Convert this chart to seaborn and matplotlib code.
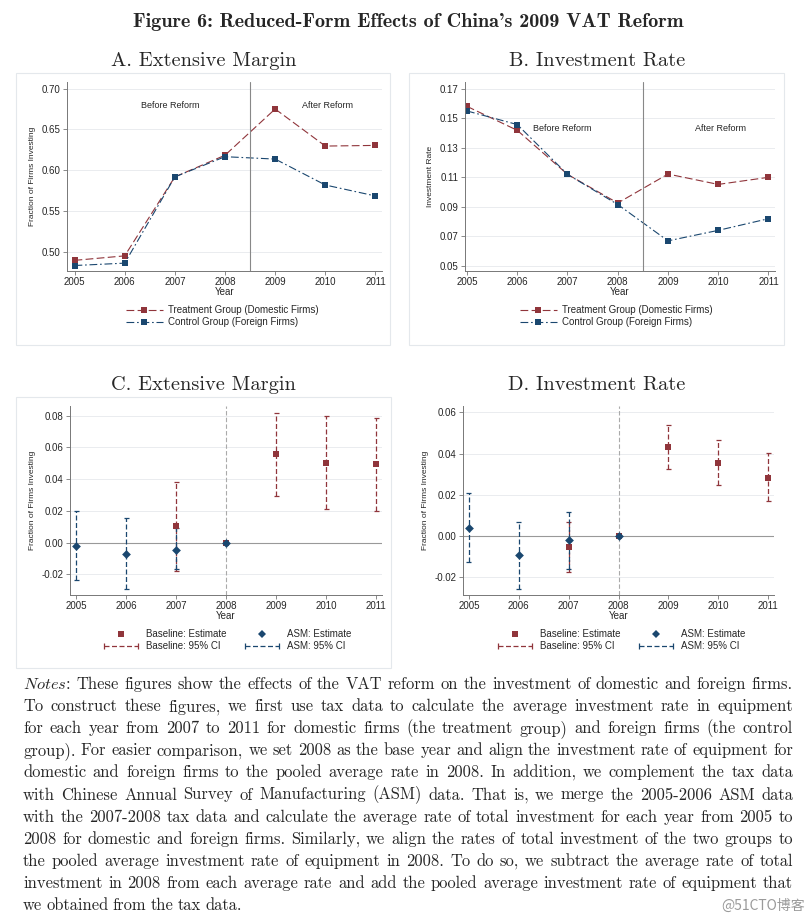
import numpy as np
import pandas as pd
import matplotlib
matplotlib.use('Agg')
import matplotlib.pyplot as plt
import seaborn as sns
from matplotlib.lines import Line2D
from matplotlib.patches import Rectangle
from matplotlib.legend_handler import HandlerLine2D
from matplotlib.ticker import FormatStrFormatter

# ---- data ----
years = [2005, 2006, 2007, 2008, 2009, 2010, 2011]
ext_treat = [0.490, 0.4955, 0.592, 0.6185, 0.675, 0.6297, 0.6305]
ext_ctrl = [0.4837, 0.4866, 0.592, 0.6167, 0.6138, 0.5821, 0.5687]
inv_treat = [0.158, 0.1418, 0.112, 0.0926, 0.1122, 0.1052, 0.110]
inv_ctrl = [0.1549, 0.1457, 0.112, 0.0916, 0.067, 0.0741, 0.082]

base_years = [2007, 2008, 2009, 2010, 2011]
asm_years = [2005, 2006, 2007, 2008]
ext_base_est = [0.0107, 0.0, 0.0556, 0.0502, 0.0493]
ext_base_lo = [-0.0179, 0.0, 0.0292, 0.0212, 0.0197]
ext_base_hi = [0.0384, 0.0, 0.0819, 0.0796, 0.0787]
ext_asm_est = [-0.0019, -0.0070, -0.0047, 0.0]
ext_asm_lo = [-0.0238, -0.0294, -0.0168, 0.0]
ext_asm_hi = [0.0201, 0.0153, 0.0090, 0.0]
inv_base_est = [-0.0051, 0.0, 0.0434, 0.0356, 0.0284]
inv_base_lo = [-0.0174, 0.0, 0.0324, 0.0246, 0.0168]
inv_base_hi = [0.0070, 0.0, 0.0537, 0.0464, 0.0402]
inv_asm_est = [0.0041, -0.0093, -0.0021, 0.0]
inv_asm_lo = [-0.0127, -0.0257, -0.0158, 0.0]
inv_asm_hi = [0.0207, 0.0070, 0.0115, 0.0]

TREAT = 'Treatment Group (Domestic Firms)'
CTRL = 'Control Group (Foreign Firms)'
MAROON = '#90353b'
NAVY = '#1a476f'

notes_lines = [
    "Notes: These figures show the effects of the VAT reform on the investment of domestic and foreign firms.",
    "To construct these figures, we first use tax data to calculate the average investment rate in equipment",
    "for each year from 2007 to 2011 for domestic firms (the treatment group) and foreign firms (the control",
    "group). For easier comparison, we set 2008 as the base year and align the investment rate of equipment for",
    "domestic and foreign firms to the pooled average rate in 2008. In addition, we complement the tax data",
    "with Chinese Annual Survey of Manufacturing (ASM) data. That is, we merge the 2005-2006 ASM data",
    "with the 2007-2008 tax data and calculate the average rate of total investment for each year from 2005 to",
    "2008 for domestic and foreign firms. Similarly, we align the rates of total investment of the two groups to",
    "the pooled average investment rate of equipment in 2008. To do so, we subtract the average rate of total",
    "investment in 2008 from each average rate and add the pooled average investment rate of equipment that",
    "we obtained from the tax data.",
]

sns.set_style('ticks')
plt.rcParams['font.family'] = ['Liberation Sans', 'DejaVu Sans']
plt.rcParams['mathtext.fontset'] = 'cm'

W, H = 810, 924
fig = plt.figure(figsize=(W / 100, H / 100), dpi=100)


def px_axes(l, t, r, b):
    return fig.add_axes([l / W, 1 - b / H, (r - l) / W, (b - t) / H])


def style_axes(ax, xlim, ylim, yticks, ylabel):
    ax.set_xlim(*xlim)
    ax.set_ylim(*ylim)
    ax.set_xticks(years)
    ax.set_yticks(yticks)
    ax.yaxis.set_major_formatter(FormatStrFormatter('%.2f'))
    for s in ['top', 'right']:
        ax.spines[s].set_visible(False)
    for s in ['left', 'bottom']:
        ax.spines[s].set_color('#777777')
        ax.spines[s].set_linewidth(0.7)
    ax.tick_params(labelsize=7, length=3, width=0.6, color='#777777', pad=1.5)
    ax.yaxis.grid(True, color='#e6e9ec', lw=0.6)
    ax.set_axisbelow(True)
    ax.set_xlabel('Year', fontsize=7, labelpad=0)
    ax.set_ylabel(ylabel, fontsize=6, labelpad=4)


def trend_panel(ax, treat, ctrl, text_y):
    df = pd.DataFrame({'Year': years * 2, 'value': treat + ctrl,
                       'group': [TREAT] * len(years) + [CTRL] * len(years)})
    sns.lineplot(data=df, x='Year', y='value', hue='group', style='group',
                 palette={TREAT: MAROON, CTRL: NAVY},
                 dashes={TREAT: (7, 3), CTRL: (7, 2.5, 1.5, 2.5)},
                 markers={TREAT: 's', CTRL: 's'}, markersize=4, markeredgewidth=0,
                 linewidth=0.8, ax=ax, legend=False)
    ax.axvline(2008.5, color='#888888', lw=0.8)
    ax.text(2006.9, text_y, 'Before Reform', fontsize=6.5, ha='center', va='center')
    ax.text(2010.05, text_y, 'After Reform', fontsize=6.5, ha='center', va='center')
    handles = [Line2D([], [], color=MAROON, lw=0.8, ls=(0, (7, 3)), marker='s', ms=4, mew=0),
               Line2D([], [], color=NAVY, lw=0.8, ls=(0, (7, 2.5, 1.5, 2.5)), marker='s', ms=4, mew=0)]
    return handles


def ci_bars(ax, yrs, lo, hi, color):
    for x, l, h in zip(yrs, lo, hi):
        if h > l:
            ax.vlines(x, l, h, colors=color, linestyles=(0, (4, 2)), lw=0.9)
            ax.hlines([l, h], x - 0.05, x + 0.05, colors=color, lw=0.9)


def event_panel(ax, b_est, b_lo, b_hi, a_est, a_lo, a_hi):
    ax.axhline(0, color='#999999', lw=0.8, zorder=1)
    ax.axvline(2008, color='#aaaaaa', lw=0.8, ls=(0, (4, 2)), zorder=1)
    ci_bars(ax, base_years, b_lo, b_hi, MAROON)
    ci_bars(ax, asm_years, a_lo, a_hi, NAVY)
    sns.scatterplot(x=base_years, y=b_est, color=MAROON, marker='s', s=16,
                    linewidth=0, ax=ax, zorder=3)
    sns.scatterplot(x=asm_years, y=a_est, color=NAVY, marker='D', s=20,
                    linewidth=0, ax=ax, zorder=4)


# panel boxes
for (l, t, r, b) in [(16, 73, 390, 345), (409, 73, 784, 345), (16, 397, 391, 668)]:
    fig.add_artist(Rectangle((l / W, 1 - b / H), (r - l) / W, (b - t) / H,
                             transform=fig.transFigure, fill=False,
                             ec='#e4e8ec', lw=0.8))

fig.text(408 / W, 1 - 22 / H, "Figure 6: Reduced-Form Effects of China's 2009 VAT Reform",
         fontfamily='cmb10', fontsize=14.5, ha='center', va='center')
for (x, y, s) in [(203.5, 61, 'A. Extensive Margin'), (597, 61, 'B. Investment Rate'),
                  (203.5, 385, 'C. Extensive Margin'), (597, 385, 'D. Investment Rate')]:
    fig.text(x / W, 1 - y / H, s, fontfamily='cmr10', fontsize=14.7, ha='center', va='center')

# A
axA = px_axes(67, 82, 382, 271)
hA = trend_panel(axA, ext_treat, ext_ctrl, 0.679)
style_axes(axA, (2004.85, 2011.13), (0.477, 0.708), [0.50, 0.55, 0.60, 0.65, 0.70],
           'Fraction of Firms Investing')
# B
axB = px_axes(465, 82, 775, 271)
hB = trend_panel(axB, inv_treat, inv_ctrl, 0.143)
style_axes(axB, (2004.96, 2011.13), (0.0466, 0.1745), [0.05, 0.07, 0.09, 0.11, 0.13, 0.15, 0.17],
           'Investment Rate')
for ax, h, x0 in [(axA, hA, 126), (axB, hB, 520)]:
    ax.legend(handles=h, labels=[TREAT, CTRL], loc='upper left',
              bbox_to_anchor=(x0 / W, 1 - 305 / H), bbox_transform=fig.transFigure,
              frameon=False, fontsize=7, handlelength=3.8, handletextpad=0.5,
              labelspacing=0.25, borderpad=0, borderaxespad=0)

# C
axC = px_axes(70, 406, 382, 595)
event_panel(axC, ext_base_est, ext_base_lo, ext_base_hi, ext_asm_est, ext_asm_lo, ext_asm_hi)
style_axes(axC, (2004.88, 2011.12), (-0.033, 0.0861), [-0.02, 0.0, 0.02, 0.04, 0.06, 0.08],
           'Fraction of Firms Investing')
# D
axD = px_axes(463, 406, 774, 595)
event_panel(axD, inv_base_est, inv_base_lo, inv_base_hi, inv_asm_est, inv_asm_lo, inv_asm_hi)
style_axes(axD, (2004.88, 2011.12), (-0.0286, 0.0631), [-0.02, 0.0, 0.02, 0.04, 0.06],
           'Fraction of Firms Investing')

for ax, x0 in [(axC, 104), (axD, 498)]:
    h_be = Line2D([], [], ls='none', marker='s', color=MAROON, ms=4, mew=0)
    h_bc = Line2D([], [], ls=(0, (4, 2)), marker='|', color=MAROON, lw=0.9, ms=5, mew=0.9)
    h_ae = Line2D([], [], ls='none', marker='D', color=NAVY, ms=4.2, mew=0)
    h_ac = Line2D([], [], ls=(0, (4, 2)), marker='|', color=NAVY, lw=0.9, ms=5, mew=0.9)
    ax.legend(handles=[h_be, h_bc, h_ae, h_ac],
              labels=['Baseline: Estimate', 'Baseline: 95% CI', 'ASM: Estimate', 'ASM: 95% CI'],
              ncol=2, loc='upper left', bbox_to_anchor=(x0 / W, 1 - 629 / H),
              bbox_transform=fig.transFigure, frameon=False, fontsize=7,
              handlelength=3.5, handletextpad=0.8, columnspacing=1.9,
              labelspacing=0.25, borderpad=0, borderaxespad=0,
              handler_map={h_bc: HandlerLine2D(numpoints=2, marker_pad=0),
                           h_ac: HandlerLine2D(numpoints=2, marker_pad=0)})

# notes paragraph, justified word by word
renderer = fig.canvas.get_renderer()
left, right = 23 / W, 793 / W
NOTE_SIZE = 11.9
for i, line in enumerate(notes_lines):
    yb = 1 - (689 + i * 22.1) / H
    words = line.split(' ')
    objs = []
    for j, w in enumerate(words):
        if i == 0 and j == 0:
            t = fig.text(0, yb, r'$\mathit{Notes}$:', fontfamily='cmr10', fontsize=NOTE_SIZE, va='baseline')
        else:
            t = fig.text(0, yb, w, fontfamily='cmr10', fontsize=NOTE_SIZE, va='baseline')
        objs.append(t)
    widths = [t.get_window_extent(renderer).width / W for t in objs]
    if i == len(notes_lines) - 1:
        gap = 4.2 / W
    else:
        gap = (right - left - sum(widths)) / (len(objs) - 1)
    x = left
    for t, w in zip(objs, widths):
        t.set_x(x)
        x += w + gap

fig.text(805 / W, 1 - 906 / H, '@51CTO博客', fontsize=10, color='#9a9a9a', ha='right', va='center',
         family=['Noto Sans CJK SC', 'DejaVu Sans'])

plt.savefig('out.png', dpi=100)
